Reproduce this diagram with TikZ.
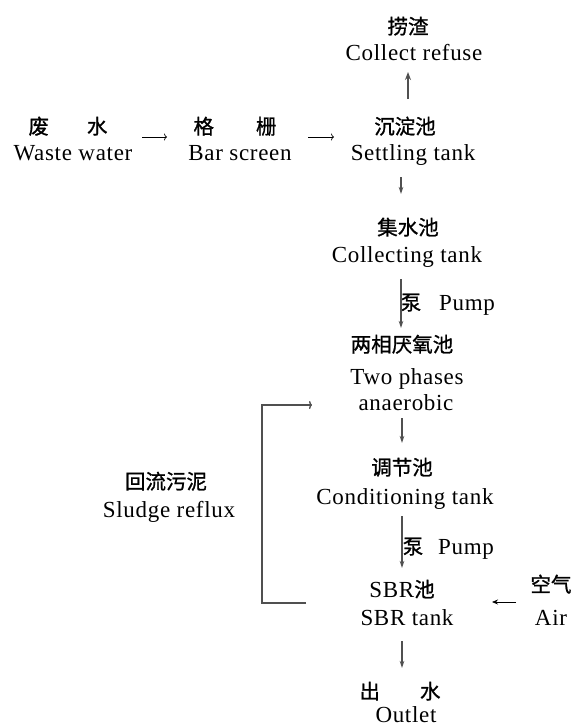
\documentclass[tikz,border=0pt]{standalone}
\usepackage{fontspec}
\setmainfont[LetterSpace=3]{Liberation Serif}
\newfontfamily\cjk[FakeBold=1]{Noto Sans CJK SC}
\usetikzlibrary{arrows.meta}
\definecolor{arrowgray}{HTML}{505050}
\begin{document}
\begin{tikzpicture}[x=1pt,y=-1pt,
  cn/.style={anchor=base,inner sep=0pt,font=\cjk\fontsize{20.5}{20.5}\selectfont},
  en/.style={anchor=base,inner sep=0pt,font=\fontsize{23}{23}\selectfont},
  varrow/.style={draw=arrowgray,line width=1.5pt,-{Stealth[length=7pt,width=4.5pt]}},
  uparrow/.style={draw=arrowgray,line width=2pt,-{Stealth[length=8pt,width=6pt]}},
  harrow/.style={draw=black,line width=0.7pt,-{To[length=3pt,width=7pt]}},
  airarrow/.style={draw=black,line width=0.8pt,-{Stealth[length=6pt,width=5pt]}},
  loopline/.style={draw=arrowgray,line width=1.4pt,-{To[length=3pt,width=8pt]}}]
\useasboundingbox (0,0) rectangle (582,728);
% texts
\node[cn] (refCn) at (408,34) {捞渣};
\node[en] (refEn) at (414,60) {Collect refuse};
\node[cn] (wasteCn) at (68,134) {废\hspace{38pt}水};
\node[en] (wasteEn) at (73,160) {Waste water};
\node[cn] (barCn) at (235,134) {格\hspace{42pt}栅};
\node[en] (barEn) at (240,160) {Bar screen};
\node[cn] (setCn) at (405,134) {沉淀池};
\node[en] (setEn) at (413,160) {Settling tank};
\node[cn] (colCn) at (408,235) {集水池};
\node[en] (colEn) at (407,262) {Collecting tank};
\node[cn] (pump1Cn) at (411,310) {泵};
\node[en] (pump1En) at (467,310) {Pump};
\node[cn] (anaCn) at (402,352) {两相厌氧池};
\node[en] (anaEn1) at (407,384) {Two phases};
\node[en] (anaEn2) at (406,410) {anaerobic};
\node[cn] (conCn) at (402,475) {调节池};
\node[en] (conEn) at (405,504) {Conditioning tank};
\node[cn] (pump2Cn) at (413,554) {泵};
\node[en] (pump2En) at (466,554) {Pump};
\node[anchor=base,inner sep=0pt] (sbrCn) at (402,597) {\fontsize{23}{23}\selectfont SBR{\cjk\fontsize{20.5}{20.5}\selectfont 池}};
\node[en] (sbrEn) at (407,625) {SBR tank};
\node[cn] (airCn) at (551,592) {空气};
\node[en] (airEn) at (551,625) {Air};
\node[cn] (outCn) at (400,699) {出\hspace{40pt}水};
\node[en] (outEn) at (406,722) {Outlet};
\node[cn] (sluCn) at (166,489) {回流污泥};
\node[en] (sluEn) at (169,517) {Sludge reflux};
% connector end points
\coordinate (upS) at (408,99);   \coordinate (upE) at (408,72);
\coordinate (h1S) at (142,137);  \coordinate (h1E) at (167,137);
\coordinate (h2S) at (308,137);  \coordinate (h2E) at (334,137);
\coordinate (v1S) at (401,177);  \coordinate (v1E) at (401,194);
\coordinate (p1S) at (401,279);  \coordinate (p1E) at (401,328);
\coordinate (v2S) at (402,418);  \coordinate (v2E) at (402,443);
\coordinate (p2S) at (402,516);  \coordinate (p2E) at (402,568);
\coordinate (v3S) at (402,641);  \coordinate (v3E) at (402,668);
\coordinate (airS) at (516,602); \coordinate (airE) at (492,602);
\coordinate (lpS) at (306,603);  \coordinate (lpE) at (312,405);
% connectors
\draw[uparrow] (upS) -- (upE);
\draw[harrow] (h1S) -- (h1E);
\draw[harrow] (h2S) -- (h2E);
\draw[varrow] (v1S) -- (v1E);
\draw[varrow] (p1S) -- (p1E);
\draw[varrow] (v2S) -- (v2E);
\draw[varrow] (p2S) -- (p2E);
\draw[varrow] (v3S) -- (v3E);
\draw[airarrow] (airS) -- (airE);
\draw[loopline] (lpS) -- (262,603) -- (262,405) -- (lpE);
\end{tikzpicture}
\end{document}
